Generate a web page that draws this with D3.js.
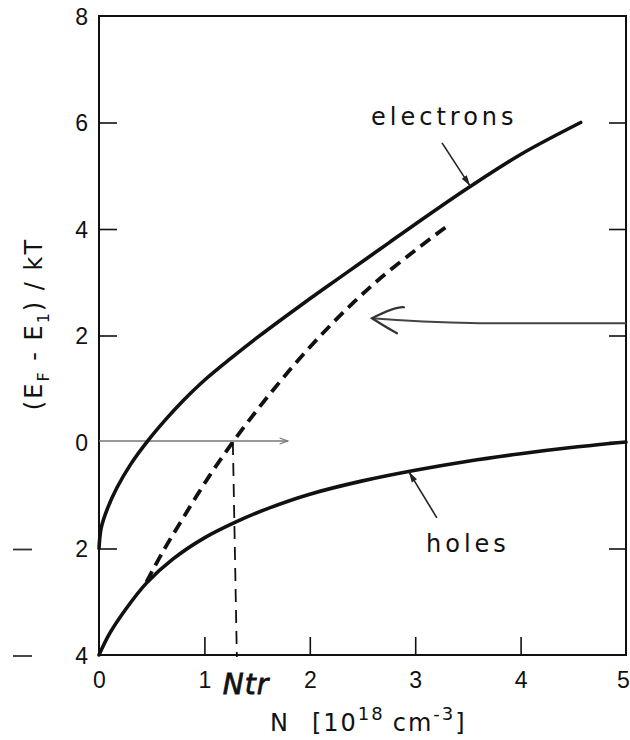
<!DOCTYPE html>
<html>
<head>
<meta charset="utf-8">
<script src="https://cdn.jsdelivr.net/npm/d3@7"></script>
<style>
  html, body { margin: 0; padding: 0; background: #fff; }
  svg { display: block; }
  .lbl { font-family: "DejaVu Sans", sans-serif; fill: #111; }
  .num { font-family: "Liberation Sans", Arial, sans-serif; fill: #111; }
</style>
</head>
<body>
<svg id="chart" width="630" height="740"></svg>
<script>
// Carrier density N (10^18 cm^-3) and quasi-Fermi level (E_F - E_1)/kT
const electronN = [0, 0.02, 0.08, 0.17, 0.3, 0.47, 0.64, 0.8, 1.0, 1.25, 1.5, 1.75, 2.0, 2.25, 2.5, 2.75, 3.0, 3.5, 4.0, 4.57];
const electronE = [-2.0, -1.62, -1.25, -0.86, -0.42, 0.04, 0.44, 0.78, 1.16, 1.57, 1.96, 2.33, 2.69, 3.04, 3.39, 3.74, 4.09, 4.77, 5.4, 6.0];

const holeN = [0, 0.1, 0.25, 0.45, 0.7, 1.0, 1.3, 1.6, 2.0, 2.5, 3.0, 3.5, 4.0, 4.5, 5.0];
const holeE = [-4.0, -3.6, -3.15, -2.65, -2.2, -1.8, -1.5, -1.25, -0.98, -0.73, -0.53, -0.36, -0.22, -0.1, 0.0];

// Sum of both quasi-Fermi levels (dashed curve)
const sumN = [0.45, 0.6, 0.8, 1.04, 1.27, 1.5, 1.72, 1.95, 2.19, 2.42, 2.66, 3.0, 3.32];
const sumE = [-2.63, -2.08, -1.42, -0.66, 0.0, 0.6, 1.14, 1.67, 2.18, 2.63, 3.06, 3.6, 4.08];

// Transparency density
const Ntr = 1.27;

const xTicks = [0, 1, 2, 3, 4, 5];
const xTickLabels = ["0", "1", "2", "3", "4", "5"];
const yTicks = [-4, -2, 0, 2, 4, 6, 8];
const yTickLabels = ["4", "2", "0", "2", "4", "6", "8"];

const svg = d3.select("#chart");
const x = d3.scaleLinear().domain([0, 5]).range([99, 626]);
const y = d3.scaleLinear().domain([-4, 8]).range([655, 16]);

const zip = (a, b) => a.map((v, i) => [v, b[i]]);
const line = d3.line().x(d => x(d[0])).y(d => y(d[1])).curve(d3.curveCatmullRom.alpha(0.5));

// Frame
svg.append("rect")
  .attr("x", x(0)).attr("y", y(8))
  .attr("width", x(5) - x(0)).attr("height", y(-4) - y(8))
  .attr("fill", "none").attr("stroke", "#111").attr("stroke-width", 2);

// Left axis (inward ticks, magnitude labels)
const gL = svg.append("g").attr("transform", `translate(${x(0)},0)`)
  .call(d3.axisLeft(y).tickValues(yTicks).tickSize(-18).tickPadding(11)
    .tickFormat((d, i) => yTickLabels[i]));
gL.select(".domain").remove();
gL.attr("font-family", null).attr("font-size", null);
gL.selectAll(".tick line").attr("stroke", "#111").attr("stroke-width", 1.6)
  .attr("display", d => (d === 0 || d === -4 || d === 8) ? "none" : null);
gL.selectAll(".tick text").attr("class", "num").style("font-size", "23px")
  .attr("dy", "0.36em");

// Minus signs for negative values, set apart on the far left
svg.selectAll(".minus").data(yTicks.filter(d => d < 0)).enter().append("line")
  .attr("class", "minus")
  .attr("x1", 13).attr("x2", 32)
  .attr("y1", d => y(d) + 1).attr("y2", d => y(d) + 1)
  .attr("stroke", "#333").attr("stroke-width", 1.8);

// Right axis ticks
const gR = svg.append("g").attr("transform", `translate(${x(5)},0)`)
  .call(d3.axisRight(y).tickValues([-2, 0, 2, 4, 6]).tickSize(-17).tickFormat(""));
gR.select(".domain").remove();
gR.selectAll(".tick line").attr("stroke", "#111").attr("stroke-width", 1.6);

// Bottom axis
const gB = svg.append("g").attr("transform", `translate(0,${y(-4)})`)
  .call(d3.axisBottom(x).tickValues(xTicks).tickSize(-18).tickPadding(17)
    .tickFormat((d, i) => xTickLabels[i]));
gB.select(".domain").remove();
gB.attr("font-family", null).attr("font-size", null);
gB.selectAll(".tick line").attr("stroke", "#111").attr("stroke-width", 1.6)
  .attr("display", d => (d === 0 || d === 5) ? "none" : null);
gB.selectAll(".tick text").attr("class", "num").style("font-size", "23px")
  .attr("dx", d => d === 5 ? "-3" : null);

// Zero reference line with small arrow
const zx2 = x(1.79);
svg.append("line").attr("x1", x(0)).attr("x2", zx2)
  .attr("y1", y(0) - 1).attr("y2", y(0) - 1)
  .attr("stroke", "#777").attr("stroke-width", 1.5);
svg.append("path")
  .attr("d", `M${zx2 - 8},${y(0) - 4} L${zx2},${y(0) - 1} L${zx2 - 8},${y(0) + 2}`)
  .attr("fill", "none").attr("stroke", "#777").attr("stroke-width", 1.3);

// Transparency density marker
svg.append("line")
  .attr("x1", x(Ntr)).attr("x2", x(Ntr) + 4)
  .attr("y1", y(0)).attr("y2", y(-4) + 2)
  .attr("stroke", "#111").attr("stroke-width", 1.8)
  .attr("stroke-dasharray", "13,8");

// Curves
svg.append("path").attr("d", line(zip(electronN, electronE)))
  .attr("fill", "none").attr("stroke", "#111").attr("stroke-width", 3.6)
  .attr("stroke-linecap", "round");
svg.append("path").attr("d", line(zip(holeN, holeE)))
  .attr("fill", "none").attr("stroke", "#111").attr("stroke-width", 3.6)
  .attr("stroke-linecap", "round");
svg.append("path").attr("d", line(zip(sumN, sumE)))
  .attr("fill", "none").attr("stroke", "#111").attr("stroke-width", 3.8)
  .attr("stroke-dasharray", "12,7");

// Labels with pointer arrows
function pointer(tx, ty, fx, fy) {
  svg.append("line").attr("x1", fx).attr("y1", fy).attr("x2", tx).attr("y2", ty)
    .attr("stroke", "#222").attr("stroke-width", 1.6);
  const a = Math.atan2(ty - fy, tx - fx), L = 11, w = 0.28;
  const p1 = [tx - L * Math.cos(a - w), ty - L * Math.sin(a - w)];
  const p2 = [tx - L * Math.cos(a + w), ty - L * Math.sin(a + w)];
  svg.append("path").attr("d", `M${tx},${ty}L${p1}L${p2}Z`).attr("fill", "#222");
}
pointer(x(3.52), y(4.81), x(3.52) - 28, y(4.81) - 43);
svg.append("text").attr("class", "lbl").attr("x", 371).attr("y", 125)
  .style("font-size", "24px").style("letter-spacing", "4px").text("electrons");

pointer(x(2.94), y(-0.56), x(2.94) + 28, y(-0.56) + 46);
svg.append("text").attr("class", "lbl").attr("x", 426).attr("y", 552)
  .style("font-size", "24px").style("letter-spacing", "4px").text("holes");

// Arrow from the right edge pointing at the dashed curve
const ay = y(2.23);
svg.append("path")
  .attr("d", `M${x(5)},${ay} L480,${ay} Q420,${ay - 1} 372,${ay - 5}`)
  .attr("fill", "none").attr("stroke", "#444").attr("stroke-width", 1.8);
svg.append("path")
  .attr("d", `M404,${ay - 16} Q396,${ay - 17} 372,${ay - 5} Q386,${ay + 4} 397,${ay + 10}`)
  .attr("fill", "none").attr("stroke", "#333").attr("stroke-width", 2.2)
  .attr("stroke-linecap", "round");

// Ntr label
svg.append("text").attr("class", "lbl").attr("x", x(Ntr) - 10).attr("y", 694)
  .style("font-size", "28px").style("font-style", "italic")
  .attr("stroke", "#111").attr("stroke-width", 0.8)
  .style("letter-spacing", "1px").text("Ntr");

// X axis title
const xt = svg.append("text").attr("class", "lbl").attr("x", 270).attr("y", 731)
  .style("font-size", "24px").style("letter-spacing", "2px");
xt.append("tspan").text("N");
xt.append("tspan").attr("dx", 22).text("[10");
xt.append("tspan").attr("dy", -11).style("font-size", "18px").text("18");
xt.append("tspan").attr("dy", 11).attr("dx", 8).text("cm");
xt.append("tspan").attr("dy", -11).style("font-size", "18px").text("-3");
xt.append("tspan").attr("dy", 11).text("]");

// Y axis title
const yt = svg.append("text").attr("class", "lbl")
  .attr("transform", "translate(42,324) rotate(-90)")
  .attr("text-anchor", "middle").style("font-size", "24px").style("letter-spacing", "2px");
yt.append("tspan").text("(E");
yt.append("tspan").attr("dy", 7).style("font-size", "16px").text("F");
yt.append("tspan").attr("dy", -7).text(" - E");
yt.append("tspan").attr("dy", 7).style("font-size", "16px").text("1");
yt.append("tspan").attr("dy", -7).text(") / kT");
</script>
</body>
</html>
